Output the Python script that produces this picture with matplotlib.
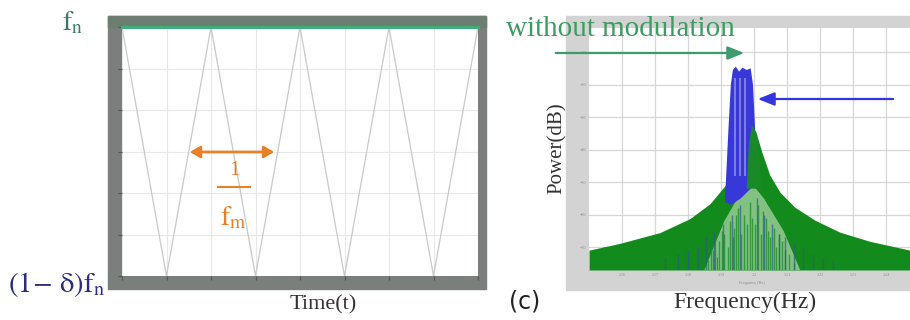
import matplotlib
matplotlib.use("Agg")
import matplotlib.pyplot as plt
from matplotlib.patches import Rectangle, FancyArrowPatch

plt.rcParams['font.family'] = ['Liberation Serif', 'DejaVu Serif']
plt.rcParams['mathtext.fontset'] = 'stix'

W, H = 910, 320

# left panel: triangular frequency sweep over time
sweep_t = [0, 0.5, 1, 1.5, 2, 2.5, 3, 3.5, 4]
sweep_f = [1, 0, 1, 0, 1, 0, 1, 0, 1]
nominal_t = [0, 4]
nominal_f = [1, 1]

# right panel: spectra (dB)
green_x = [0.0, 0.94, 2.15, 3.06, 3.67, 4.12, 4.42, 4.64, 4.82, 4.94, 5.06, 5.24, 5.48,
           5.79, 6.24, 6.85, 7.61, 8.52, 9.73]
green_db = [-70.9, -68.8, -65.5, -61.2, -56.6, -51.1, -44.9, -38.8, -34.2, -32.5, -34.6,
            -40.8, -47.8, -53.1, -57.7, -61.7, -65.4, -68.2, -70.9]
blue_x = [4.12, 4.22, 4.30, 4.36, 4.45, 4.55, 4.65, 4.78, 4.90, 4.97, 5.04, 5.10, 4.90, 4.60, 4.30]
blue_db = [-56, -35, -20, -15.5, -14.5, -16, -14.8, -15.5, -15, -20, -35, -50, -52, -55, -57]
core_x = [4.78, 4.85, 4.94, 5.06, 5.15, 5.22]
core_db = [-52, -38, -32.5, -34.6, -40, -52]
pale_x = [3.5, 4.1, 4.5, 4.9, 5.3, 5.9, 6.4]
pale_db = [-77, -62, -55, -50, -55, -65, -77]
streak_x = [3.62, 3.7, 3.75, 3.82, 3.88, 3.95, 4.02, 4.1, 4.2, 4.28, 4.35, 4.4, 4.47, 4.52,
            4.62, 4.7, 4.8, 4.88, 4.95, 5.02, 5.12, 5.22, 5.28, 5.35, 5.42, 5.5, 5.6, 5.68,
            5.77, 5.85, 5.95, 6.05, 6.2]
streak_db = [-74, -70, -71, -67, -73, -68, -65, -66, -70, -62, -67, -64, -60, -58,
             -66, -60, -63, -56, -61, -63, -57, -66, -59, -61, -65, -67, -64, -70,
             -66, -68, -71, -72, -75]
dark_x = [2.3, 2.7, 3.0, 3.3, 3.55, 3.8, 4.05, 4.33, 4.58, 5.08, 5.3, 5.55, 5.75, 5.95,
          6.2, 6.5, 6.8, 7.1, 7.4]
dark_db = [-73, -72, -71, -70, -67, -65, -63, -60, -57, -55, -60, -63, -66, -67, -69,
           -70, -72, -73, -74]
light_x = [4.42, 4.58, 4.72]
freq_ticks = [1, 2, 3, 4, 5, 6, 7, 8, 9]
freq_labels = ['1.16', '1.17', '1.18', '1.19', '1.2', '1.21', '1.22', '1.23', '1.24']
db_ticks = [-70, -60, -50, -40, -30, -20, -10]


def box(x0, y0, x1, y1):
    # pixel box (top-left origin) -> figure fractions
    return [x0 / W, 1 - y1 / H, (x1 - x0) / W, (y1 - y0) / H]


def fp(x, y):
    return (x / W, 1 - y / H)


def frame(x0, y0, x1, y1, color):
    fig.patches.append(Rectangle(fp(x0, y1), (x1 - x0) / W, (y1 - y0) / H,
                                 transform=fig.transFigure, color=color, zorder=-5))


fig = plt.figure(figsize=(W / 100, H / 100), dpi=100)

# ---- left panel ----
frame(108, 16, 486, 289, '#7b7f7c')
frame(108, 16, 486, 27, '#6c7d72')
ax1 = fig.add_axes(box(122, 27, 478, 276))
ax1.plot(sweep_t, sweep_f, color='#c9c9c9', lw=0.9)
ax1.plot(nominal_t, nominal_f, color='#3fae78', lw=2.2, clip_on=False, zorder=5)
ax1.set_xlim(0, 4)
ax1.set_ylim(0, 1)
ax1.set_xticks([0.5 * i for i in range(9)])
ax1.set_yticks([i / 6 for i in range(7)])
ax1.grid(color='#e8e8e8', lw=0.8)
ax1.tick_params(labelleft=False, labelbottom=False, length=3, color='#555555', direction='out')
for s in ax1.spines.values():
    s.set_visible(False)

fig.text(*fp(62, 30), r'$\mathrm{f_n}$', color='#3b7a6c', fontsize=20)
fig.text(*fp(8, 292), r'$\mathrm{(1\!-\,\delta)f_n}$', color='#2c2c78', fontsize=20.5)
fig.text(*fp(323, 309), 'Time(t)', color='#333333', fontsize=16, ha='center')

orange = '#e8802a'
fig.add_artist(FancyArrowPatch(fp(187, 152), fp(277, 152), transform=fig.transFigure,
                               arrowstyle='<|-|>,head_length=6,head_width=3.5',
                               color=orange, lw=2))
fig.text(*fp(234, 175), '1', color=orange, fontsize=15, ha='center')
fig.add_artist(plt.Line2D([218 / W, 250 / W], [1 - 187 / H] * 2, transform=fig.transFigure,
                          color=orange, lw=1.5))
fig.text(*fp(233, 225), r'$\mathrm{f_m}$', color=orange, fontsize=20, ha='center')

# ---- right panel ----
frame(566, 16, 910, 290, '#d3d3d3')
ax2 = fig.add_axes(box(589, 28, 910, 270))
ax2.set_xlim(0, 9.73)
ax2.set_ylim(-77, -2.6)
ax2.fill_between(green_x, green_db, -77, color='#138a1c', lw=0, zorder=2)
ax2.fill(pale_x, pale_db, color='#cfe6c8', lw=0, alpha=0.6, zorder=2.3)
ax2.vlines(streak_x, -77, streak_db, color='#1f8f2c', lw=1.0, alpha=0.8, zorder=2.5)
ax2.vlines(dark_x, -77, dark_db, color='#2b5a8c', lw=1.0, alpha=0.7, zorder=2.6)
ax2.fill(blue_x, blue_db, color='#3838d8', lw=0, zorder=3)
ax2.vlines(light_x, -48, -18, color='#9a9aee', lw=1.4, alpha=0.7, zorder=3.1)
ax2.fill(core_x, core_db, color='#1a8a28', lw=0, zorder=4)
ax2.set_xticks(freq_ticks)
ax2.set_xticklabels(freq_labels)
ax2.set_yticks(db_ticks)
ax2.grid(color='#d6d6d6', lw=0.9, zorder=1)
ax2.set_axisbelow(True)
ax2.tick_params(labelsize=3, colors='#888888', length=0, pad=2)
for s in ax2.spines.values():
    s.set_visible(False)
fig.text(*fp(752, 284), 'Frequency (Hz)', fontsize=3, color='#888888', ha='center')

fig.text(*fp(620, 36), 'without modulation', color='#3d9c62', fontsize=21, ha='center', zorder=10)
fig.add_artist(FancyArrowPatch(fp(553, 53), fp(747, 53), transform=fig.transFigure,
                               arrowstyle='-|>,head_length=10,head_width=4',
                               color='#3d9c6e', lw=1.6, zorder=10))
fig.add_artist(FancyArrowPatch(fp(896, 99), fp(755, 99), transform=fig.transFigure,
                               arrowstyle='-|>,head_length=10,head_width=4',
                               color='#3434e0', lw=1.6, zorder=10))
fig.text(*fp(557, 148), 'Power(dB)', color='#333333', fontsize=15, rotation=90,
         ha='center', va='center')
fig.text(*fp(745, 308), 'Frequency(Hz)', color='#333333', fontsize=17, ha='center')
fig.text(*fp(525, 308), '(c)', color='#222222', fontsize=17, ha='center',
         family=['DejaVu Sans'])

fig.savefig('out.png', dpi=100)
